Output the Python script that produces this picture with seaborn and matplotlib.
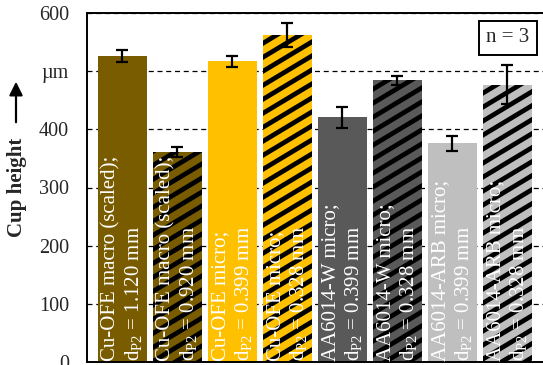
import matplotlib
matplotlib.use('Agg')
import matplotlib.pyplot as plt
from matplotlib.collections import LineCollection
from matplotlib.transforms import IdentityTransform
import seaborn as sns
import pandas as pd
import numpy as np

sns.set_style('white')
plt.rcParams['font.family'] = ['Liberation Serif', 'DejaVu Serif']
plt.rcParams['mathtext.fontset'] = 'custom'
plt.rcParams['mathtext.rm'] = 'Liberation Serif'
plt.rcParams['mathtext.it'] = 'Liberation Serif:italic'

# data
groups = ['Cu-OFE macro (scaled);', 'Cu-OFE macro (scaled);',
          'Cu-OFE micro;', 'Cu-OFE micro;',
          'AA6014-W micro;', 'AA6014-W micro;',
          'AA6014-ARB micro;', 'AA6014-ARB micro;']
diameters = ['1.120', '0.920', '0.399', '0.328', '0.399', '0.328', '0.399', '0.328']
cup_height = [526, 361, 517, 562, 421, 484, 376, 477]
cup_err = [10, 8, 9, 20, 18, 7, 13, 34]
colors = ['#7a5c00', '#7a5c00', '#ffc000', '#ffc000',
          '#595959', '#595959', '#bfbfbf', '#bfbfbf']
hatched = [False, True, False, True, False, True, False, True]
y_ticks = [0, 100, 200, 300, 400, 500, 600]
y_ticklabels = ['0', '100', '200', '300', '400', 'µm', '600']

labels = [f'{g}\nd$_{{\\mathrm{{P2}}}}$ = {d} mm' for g, d in zip(groups, diameters)]
df = pd.DataFrame({'bar': [f'b{i}' for i in range(len(labels))],
                   'height': cup_height, 'err': cup_err})

W, H = 543, 365
fig = plt.figure(figsize=(W / 100, H / 100), dpi=100)
ax = fig.add_axes([87 / W, 3 / H, (548 - 87) / W, 349 / H])

sns.barplot(data=df, x='bar', y='height', hue='bar', palette=colors,
            legend=False, width=0.89, ax=ax, errorbar=None, saturation=1)

# diagonal stripes (shallower than matplotlib's 45 deg hatch), clipped to the bars
slope = np.tan(np.radians(31))
period = 14
offsets = np.arange(-W * slope, H + period, period)
segs = [[(0, c), (W, c + W * slope)] for c in offsets]
for patch, h in zip(ax.patches, hatched):
    patch.set_linewidth(0)
    if h:
        lc = LineCollection(segs, colors='black', linewidths=3.4,
                            transform=IdentityTransform(), zorder=1.5)
        ax.add_collection(lc, autolim=False)
        lc.set_clip_path(patch)

xpos = np.arange(len(labels))
ax.errorbar(xpos, df['height'], yerr=df['err'], fmt='none', ecolor='black',
            elinewidth=1.6, capsize=4.3, capthick=1.6, zorder=5)

for x, lab in zip(xpos, labels):
    ax.text(x, 1, lab, rotation=90, ha='center', va='bottom',
            multialignment='left', color='white', fontsize=15,
            linespacing=1.15, zorder=4)

ax.set_ylim(0, 600)
ax.set_xlim(-0.645, 7.74)
ax.set_yticks(y_ticks)
ax.set_yticklabels(y_ticklabels, fontsize=14.5)
ax.tick_params(axis='y', length=0, pad=13)
ax.set_xticks([])
ax.set_xlabel('')
ax.set_ylabel('')
ax.set_axisbelow(True)
ax.yaxis.grid(True, linestyle=(0, (4, 3)), color='black', linewidth=0.9)
for s in ['left', 'top', 'bottom', 'right']:
    ax.spines[s].set_color('black')
    ax.spines[s].set_linewidth(1.4)

fig.text(17 / W, 1 - 187 / H, 'Cup height', rotation=90, ha='center',
         va='center', fontsize=15, fontweight='bold')
ax.annotate('', xy=(16 / W, 1 - 79 / H), xytext=(16 / W, 1 - 125 / H),
            xycoords='figure fraction', textcoords='figure fraction',
            arrowprops=dict(arrowstyle='-|>', color='black', lw=1.6,
                            mutation_scale=20))

ax.text(508 / W, 1 - 38 / H, 'n = 3', transform=fig.transFigure,
        ha='center', va='center', fontsize=15,
        bbox=dict(boxstyle='square,pad=0.35', facecolor='white',
                  edgecolor='black', linewidth=1.4), zorder=6)

fig.savefig('out.png', dpi=100)
